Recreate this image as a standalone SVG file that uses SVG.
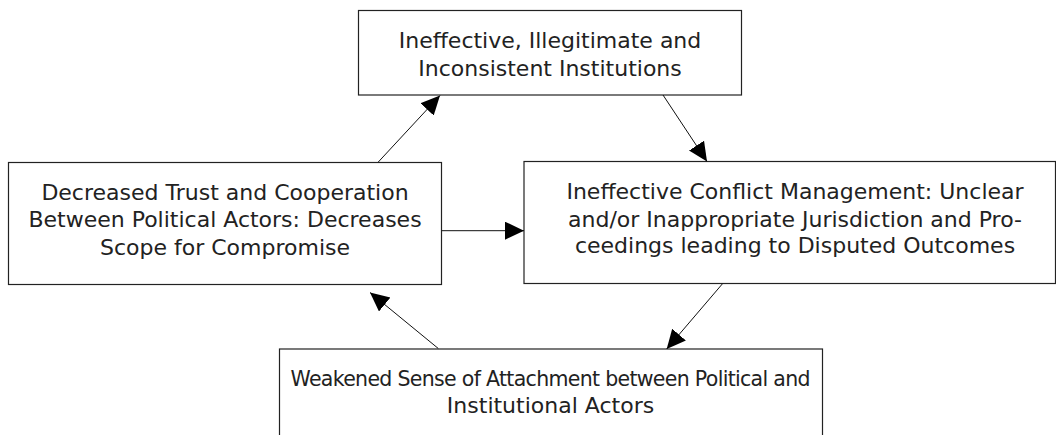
<svg xmlns="http://www.w3.org/2000/svg" width="1056" height="435" viewBox="0 0 1056 435">
<style>
.box{fill:#fff;stroke:#222;stroke-width:1.2}
.lbl{font-family:"DejaVu Sans","Liberation Sans",sans-serif;font-size:22px;fill:#222;text-anchor:middle}
.edge{stroke:#111;stroke-width:1;fill:none;marker-end:url(#ah)}
</style>
<defs>
<marker id="ah" markerUnits="userSpaceOnUse" markerWidth="20" markerHeight="19" refX="19" refY="9" orient="auto">
<path d="M0,0 L19,9 L0,18 Z" fill="#000"/>
</marker>
</defs>
<rect width="1056" height="435" fill="#fff"/>
<g id="n-top">
<rect class="box" x="358.5" y="10.5" width="383" height="84.5"/>
<text class="lbl" x="550" y="48.3">Ineffective, Illegitimate and</text>
<text class="lbl" x="550" y="76">Inconsistent Institutions</text>
</g>
<g id="n-left">
<rect class="box" x="8.5" y="162.5" width="433" height="122"/>
<text class="lbl" x="225" y="200">Decreased Trust and Cooperation</text>
<text class="lbl" x="225" y="227.3">Between Political Actors: Decreases</text>
<text class="lbl" x="225" y="255">Scope for Compromise</text>
</g>
<g id="n-right">
<rect class="box" x="524" y="161.5" width="531.5" height="122"/>
<text class="lbl" x="795" y="199.3">Ineffective Conflict Management: Unclear</text>
<text class="lbl" x="795" y="226.7">and/or Inappropriate Jurisdiction and Pro-</text>
<text class="lbl" x="795" y="253.3">ceedings leading to Disputed Outcomes</text>
</g>
<g id="n-bottom">
<rect class="box" x="279.5" y="349" width="543" height="100"/>
<text class="lbl" x="550.5" y="386" style="font-size:20.5px" textLength="520" lengthAdjust="spacing">Weakened Sense of Attachment between Political and</text>
<text class="lbl" x="550.5" y="413.3">Institutional Actors</text>
</g>
<g id="connectors">
<line class="edge" x1="378.3" y1="162" x2="440" y2="95.5"/>
<line class="edge" x1="663" y1="95" x2="707" y2="161.5"/>
<line class="edge" x1="441.7" y1="230.7" x2="524" y2="230.7"/>
<line class="edge" x1="722.7" y1="283.5" x2="666.7" y2="349"/>
<line class="edge" x1="438.3" y1="348.5" x2="370" y2="292.5"/>
</g>
</svg>
